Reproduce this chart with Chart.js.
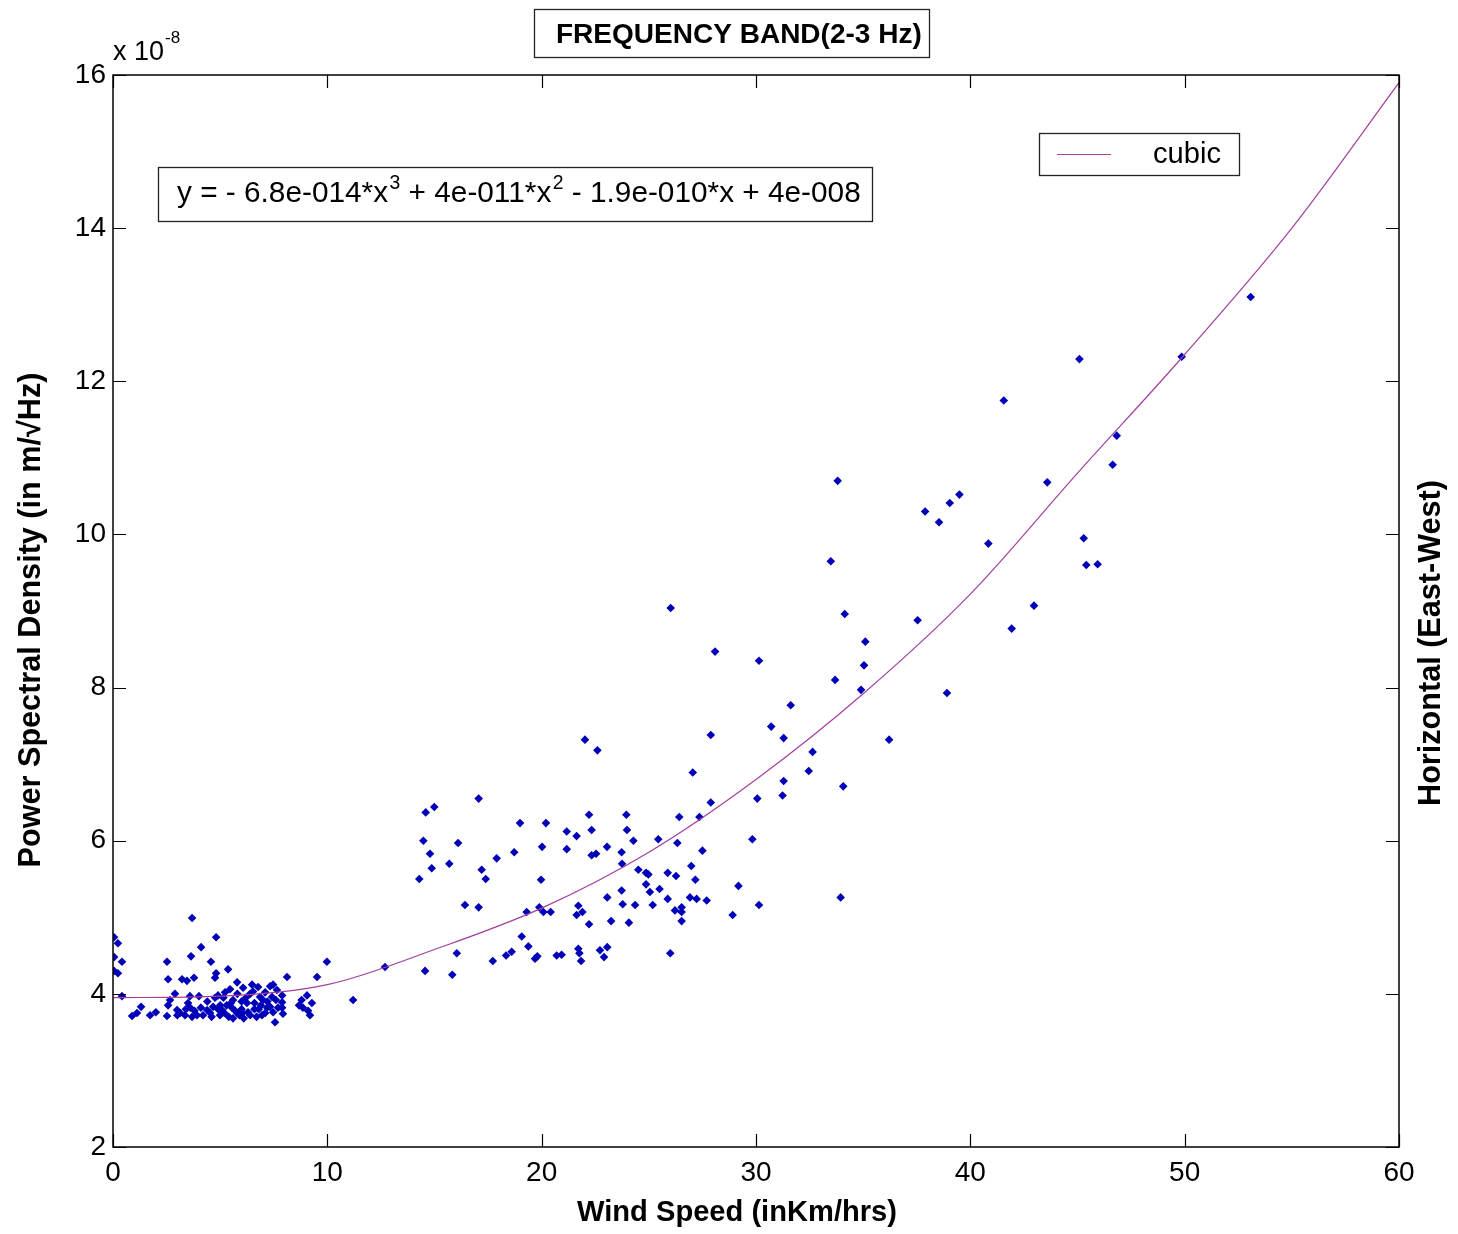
<!DOCTYPE html>
<html>
<head>
<meta charset="utf-8">
<script src="https://cdn.jsdelivr.net/npm/chart.js@4.4.1/dist/chart.umd.min.js"></script>
<style>
  html, body { margin: 0; padding: 0; background: #fff; }
  #wrap { width: 1458px; height: 1234px; position: relative; }
</style>
</head>
<body>
<div id="wrap"><canvas id="c"></canvas></div>
<script>
// ---- Data (PSD values in units of 1e-8 m/sqrt(Hz)) ----
const windSpeed = [
  0.05,0.23,0.05,0.42,0.05,0.23,0.42,0.89,1.12,1.31,1.73,2.0,2.52,2.57,2.52,2.57,2.66,2.89,2.99,3.13,
  3.22,3.45,3.69,3.64,3.78,3.59,3.5,3.36,3.69,3.92,4.01,4.11,4.57,4.81,4.81,4.76,4.39,4.53,4.67,4.76,
  4.9,5.09,4.99,5.37,5.23,5.46,5.79,5.6,5.55,5.79,5.6,6.07,6.25,6.3,6.49,6.53,6.77,6.86,7.0,7.19,
  6.95,7.33,7.47,7.42,7.33,7.47,7.56,7.89,7.89,7.89,7.93,8.12,8.68,8.86,9.05,9.19,9.28,9.52,9.98,11.2,
  5.2,5.4,5.7,5.9,6.0,6.1,6.4,6.6,6.7,7.1,5.5,6.0,6.2,6.6,6.9,7.2,5.3,4.6,4.2,3.8,
  4.1,3.4,3.0,3.6,4.4,5.8,6.4,7.1,7.6,7.7,7.65,5.0,5.15,4.9,6.8,6.05,9.1,8.8,
  12.69,14.59,14.99,17.06,14.48,14.79,14.87,14.29,15.69,16.1,17.2,17.39,17.9,18.72,18.99,20.2,20.02,19.97,21.17,21.63,
  21.17,22.21,22.33,22.33,22.54,23.05,23.73,23.95,23.98,24.28,23.75,26.42,27.36,27.89,25.44,26.33,27.5,26.98,27.17,24.51,
  24.87,24.98,24.87,25.05,25.5,25.88,26.27,23.73,23.06,23.78,24.36,25.18,25.88,26.92,27.23,27.7,26.22,26.53,26.53,26.53,
  24.07,23.24,22.21,21.63,21.9,21.71,20.42,20.08,19.89,19.3,17.06,16.42,19.07,19.38,19.69,19.8,18.6,18.34,17.72,16.04,
  14.56,15.83,20.7,20.93,21.71,21.76,21.84,22.72,23.06,22.91,26.0,
  26.02,28.09,30.14,33.69,31.62,30.71,31.29,32.64,32.46,31.29,31.24,30.06,27.05,27.89,22.02,22.6,
  41.56,33.81,43.59,37.89,38.54,39.04,39.49,40.84,45.29,45.41,45.94,33.49,34.14,37.54,42.97,41.93,35.1,35.04,34.9,38.91,
  53.08,49.86,45.09,46.83,46.64,34.07,29.83,29.18,30.14,28.91,33.95,36.21
];
const psd = [
  4.74,4.66,4.48,4.42,4.30,4.27,3.97,3.71,3.75,3.83,3.72,3.76,4.42,4.19,3.71,3.85,3.92,4.0,3.79,3.75,
  4.19,4.17,4.99,4.49,4.21,3.97,3.88,3.72,3.70,3.72,3.97,4.61,4.42,4.74,4.27,4.21,3.79,3.75,3.83,3.95,
  3.98,3.79,3.72,4.32,4.02,4.06,4.15,3.92,3.82,3.75,3.68,4.08,3.88,3.76,4.12,4.03,4.09,3.96,3.92,3.82,
  3.72,4.10,4.12,3.96,3.83,3.76,3.63,3.98,3.89,3.82,3.74,4.22,3.85,3.82,3.98,3.72,3.88,4.22,4.42,3.92,
  3.75,3.70,3.78,3.72,3.80,3.68,3.72,3.80,3.70,3.75,3.88,3.90,3.95,3.88,3.85,3.90,3.85,3.70,3.72,3.78,
  3.82,3.80,3.72,3.82,3.90,4.00,4.00,4.02,3.92,3.82,4.05,3.85,3.95,3.80,3.80,3.75,3.78,3.92,
  4.35,6.37,6.44,6.55,6.0,5.83,5.64,5.50,5.70,5.97,5.62,5.50,5.77,5.85,6.23,6.23,5.92,5.49,6.12,6.06,
  5.89,6.34,6.14,5.81,5.83,5.92,5.85,6.34,6.14,6.0,5.70,6.31,6.31,6.5,6.02,5.97,5.87,5.67,5.49,5.62,
  5.58,5.56,5.43,5.33,5.37,5.58,5.54,5.35,5.26,5.17,5.16,5.16,5.24,5.26,5.24,5.22,5.09,5.13,5.07,4.95,
  4.93,4.95,4.91,5.03,5.07,5.15,5.07,5.07,5.13,5.07,5.13,5.16,4.75,4.62,4.46,4.49,4.55,4.50,4.43,4.53,
  4.30,4.25,4.50,4.51,4.59,4.53,4.43,4.57,4.61,4.48,4.53,
  9.04,8.47,8.35,8.10,7.77,7.49,7.34,7.16,6.91,6.78,6.59,6.55,6.89,7.38,7.32,7.18,
  11.75,10.70,10.68,10.30,10.16,10.41,10.52,9.88,9.95,9.60,9.61,9.65,8.96,8.88,9.07,8.77,8.60,8.29,7.97,7.93,
  13.10,12.32,12.29,11.29,10.91,6.71,6.02,5.41,5.16,5.03,5.26,7.32
];
// cubic fit curve
const fitSpeed = [0, 5, 10, 15, 20, 25, 30, 35, 40, 45, 50, 55, 60];
const fitPsd   = [3.95, 3.97, 4.12, 4.58, 5.12, 5.85, 6.8, 7.92, 9.22, 10.8, 12.35, 14.0, 15.9];

const xTicks = [0, 10, 20, 30, 40, 50, 60];
const yTicks = [2, 4, 6, 8, 10, 12, 14, 16];

const titleText = 'FREQUENCY BAND(2-3 Hz)';
const xTitle = 'Wind Speed (inKm/hrs)';
const yTitle = 'Power Spectral Density (in m/\u221AHz)';
const rightTitle = 'Horizontal (East-West)';
const legendLabel = 'cubic';
const eqParts = [
  {t: 'y = - 6.8e-014*x'}, {t: '3', sup: true}, {t: ' + 4e-011*x'}, {t: '2', sup: true},
  {t: ' - 1.9e-010*x + 4e-008'}
];

const FONT = '"Liberation Sans", Arial, Helvetica, sans-serif';
const LINE_COLOR = '#a3409f';
const PT_COLOR = '#0000b8';

function fitFont(ctx, text, weight, target) {
  ctx.font = weight + ' 20px ' + FONT;
  const w = ctx.measureText(text).width;
  return 20 * target / w;
}

const decor = {
  id: 'decor',
  afterDraw(chart) {
    const {ctx, chartArea: a, scales: {x, y}} = chart;
    ctx.save();
    // frame
    ctx.strokeStyle = '#000';
    ctx.lineWidth = 1.5;
    ctx.strokeRect(a.left, a.top, a.right - a.left, a.bottom - a.top);
    // inward ticks on all four sides
    const T = 13;
    ctx.lineWidth = 1.2;
    ctx.beginPath();
    x.ticks.forEach(t => {
      const p = Math.round(x.getPixelForValue(t.value)) + 0.5;
      ctx.moveTo(p, a.bottom); ctx.lineTo(p, a.bottom - T);
      ctx.moveTo(p, a.top); ctx.lineTo(p, a.top + T);
    });
    y.ticks.forEach(t => {
      const p = Math.round(y.getPixelForValue(t.value)) + 0.5;
      ctx.moveTo(a.left, p); ctx.lineTo(a.left + T, p);
      ctx.moveTo(a.right, p); ctx.lineTo(a.right - T, p);
    });
    ctx.stroke();

    ctx.fillStyle = '#000';
    // exponent label
    ctx.textBaseline = 'alphabetic';
    ctx.textAlign = 'left';
    ctx.font = '27px ' + FONT;
    ctx.fillText('x 10', 113, 60);
    const wx = ctx.measureText('x 10').width;
    ctx.font = '17px ' + FONT;
    ctx.fillText('-8', 113 + wx + 1, 43);

    // title box
    ctx.lineWidth = 1.3;
    ctx.strokeStyle = '#222';
    ctx.fillStyle = '#fff';
    ctx.fillRect(534, 9, 395, 48);
    ctx.strokeRect(534.5, 9.5, 395, 48);
    ctx.fillStyle = '#000';
    let s = fitFont(ctx, titleText, 'bold', 366);
    ctx.font = 'bold ' + s + 'px ' + FONT;
    ctx.textBaseline = 'middle';
    ctx.textAlign = 'left';
    ctx.fillText(titleText, 556, 35);

    // equation box
    ctx.fillStyle = '#fff';
    ctx.fillRect(158, 167, 714, 54);
    ctx.strokeRect(158.5, 167.5, 714, 54);
    ctx.fillStyle = '#000';
    const base = 20;
    let tw = 0;
    eqParts.forEach(p => {
      ctx.font = (p.sup ? base * 0.65 : base) + 'px ' + FONT;
      tw += ctx.measureText(p.t).width + (p.sup ? base * 0.05 : 0);
    });
    const es = base * 684 / tw;
    let cx = 177;
    ctx.textBaseline = 'alphabetic';
    eqParts.forEach(p => {
      const fs = p.sup ? es * 0.65 : es;
      ctx.font = fs + 'px ' + FONT;
      const yy = p.sup ? 202 - es * 0.42 : 202;
      ctx.fillText(p.t, cx + (p.sup ? es * 0.05 : 0), yy);
      cx += ctx.measureText(p.t).width + (p.sup ? es * 0.05 : 0);
    });

    // legend box
    ctx.fillStyle = '#fff';
    ctx.fillRect(1039, 133, 200, 42);
    ctx.strokeRect(1039.5, 133.5, 200, 42);
    ctx.strokeStyle = LINE_COLOR;
    ctx.lineWidth = 1.2;
    ctx.beginPath(); ctx.moveTo(1057, 154.5); ctx.lineTo(1111, 154.5); ctx.stroke();
    ctx.fillStyle = '#000';
    s = fitFont(ctx, legendLabel, '', 68);
    ctx.font = s + 'px ' + FONT;
    ctx.textBaseline = 'middle';
    ctx.fillText(legendLabel, 1153, 155);

    // axis titles
    ctx.textAlign = 'center';
    ctx.textBaseline = 'middle';
    s = fitFont(ctx, xTitle, 'bold', 320);
    ctx.font = 'bold ' + s + 'px ' + FONT;
    ctx.fillText(xTitle, 737, 1213);

    s = fitFont(ctx, yTitle, 'bold', 495);
    ctx.font = 'bold ' + s + 'px ' + FONT;
    ctx.save();
    ctx.translate(32, 620);
    ctx.rotate(-Math.PI / 2);
    ctx.fillText(yTitle, 0, 0);
    ctx.restore();

    s = fitFont(ctx, rightTitle, 'bold', 326);
    ctx.font = 'bold ' + s + 'px ' + FONT;
    ctx.save();
    ctx.translate(1432, 643);
    ctx.rotate(-Math.PI / 2);
    ctx.fillText(rightTitle, 0, 0);
    ctx.restore();

    ctx.restore();
  }
};

const pts = windSpeed.map((v, i) => ({x: v, y: psd[i]}));
const fit = fitSpeed.map((v, i) => ({x: v, y: fitPsd[i]}));

new Chart(document.getElementById('c'), {
  type: 'scatter',
  data: {
    datasets: [
      {
        label: legendLabel,
        data: fit,
        showLine: true,
        borderColor: LINE_COLOR,
        borderWidth: 1.2,
        pointRadius: 0,
        fill: false,
        cubicInterpolationMode: 'monotone'
      },
      {
        label: 'data',
        data: pts,
        pointStyle: 'rectRot',
        pointRadius: 4.3,
        backgroundColor: PT_COLOR,
        borderColor: PT_COLOR,
        borderWidth: 0
      }
    ]
  },
  options: {
    responsive: true,
    maintainAspectRatio: false,
    animation: false,
    events: [],
    layout: { padding: { top: 75, right: 59, left: 0, bottom: 0 } },
    plugins: { legend: { display: false }, tooltip: { enabled: false }, title: { display: false } },
    scales: {
      x: {
        type: 'linear', min: 0, max: 60,
        afterBuildTicks: sc => { sc.ticks = xTicks.map(v => ({value: v})); },
        ticks: { color: '#000', font: { family: FONT, size: 28 }, padding: 9, maxRotation: 0 },
        grid: { display: false, drawTicks: false },
        border: { display: false },
        afterFit: sc => { sc.height = 87; }
      },
      y: {
        type: 'linear', min: 2, max: 16,
        afterBuildTicks: sc => { sc.ticks = yTicks.map(v => ({value: v})); },
        ticks: { color: '#000', font: { family: FONT, size: 28 }, padding: 7 },
        grid: { display: false, drawTicks: false },
        border: { display: false },
        afterFit: sc => { sc.width = 113; }
      }
    }
  },
  plugins: [decor]
});
</script>
</body>
</html>
